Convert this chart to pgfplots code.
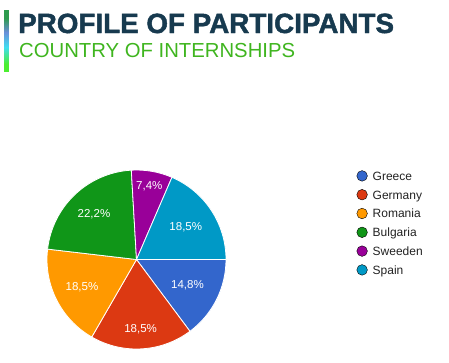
\documentclass[border=0pt]{standalone}
\usepackage{pgfplots}
\pgfplotsset{compat=1.18}
\usepackage{pgfplotstable}
\usepackage{fontspec}
\setmainfont{Liberation Sans}
\newfontface\titlefont{Liberation Sans Bold}[FakeBold=1.6]

\definecolor{cGreece}{HTML}{3366CC}
\definecolor{cGermany}{HTML}{DC3912}
\definecolor{cRomania}{HTML}{FF9900}
\definecolor{cBulgaria}{HTML}{109618}
\definecolor{cSweeden}{HTML}{990099}
\definecolor{cSpain}{HTML}{0099C6}
\definecolor{titlecol}{HTML}{173A4F}
\definecolor{subcol}{HTML}{3FB51F}
\definecolor{legtext}{HTML}{222222}
\definecolor{barA}{HTML}{4CEE30}
\definecolor{barB}{HTML}{40DDF0}
\definecolor{barC}{HTML}{6A8FD8}
\definecolor{barD}{HTML}{2E9B4E}

\newcommand\pielabelfont{\fontsize{11.5bp}{13bp}\selectfont}

% count of participants per country; lr = label distance from centre (px)
\pgfplotstableread{
country count lr
Greece 4 57
Germany 5 70
Romania 5 61
Bulgaria 6 62
Sweeden 2 74
Spain 5 59
}\piedata

\begin{document}
\begin{tikzpicture}
\path[use as bounding box] (0,0) rectangle (449bp,-363bp);
\def\pieR{89.5bp}
% totals and angles
\pgfplotstablegetrowsof{\piedata}
\pgfmathtruncatemacro\nlast{\pgfplotsretval-1}
\gdef\pietotal{0}
\foreach \i in {0,...,\nlast}{
  \pgfplotstablegetelem{\i}{count}\of\piedata
  \pgfmathsetmacro\pietmp{\pietotal+\pgfplotsretval}
  \xdef\pietotal{\pietmp}
}
\gdef\piecum{0}
\foreach \i in {0,...,\nlast}{
  \pgfplotstablegetelem{\i}{count}\of\piedata
  \let\pieval\pgfplotsretval
  \pgfmathsetmacro\pies{-360*\piecum/\pietotal}
  \pgfmathsetmacro\piee{-360*(\piecum+\pieval)/\pietotal}
  \pgfmathsetmacro\piem{(\pies+\piee)/2}
  \pgfmathsetmacro\piep{100*\pieval/\pietotal}
  \pgfmathsetmacro\piecumn{\piecum+\pieval}
  \xdef\piecum{\piecumn}
  \expandafter\xdef\csname pieS\i\endcsname{\pies}
  \expandafter\xdef\csname pieE\i\endcsname{\piee}
  \expandafter\xdef\csname pieM\i\endcsname{\piem}
  \expandafter\xdef\csname pieP\i\endcsname{\piep}
  \pgfplotstablegetelem{\i}{lr}\of\piedata
  \expandafter\xdef\csname pieL\i\endcsname{\pgfplotsretval}
  \pgfplotstablegetelem{\i}{country}\of\piedata
  \expandafter\xdef\csname pieN\i\endcsname{\pgfplotsretval}
}

% header: gradient bar (decorative), drawn in 1bp strips
\foreach \k in {0,...,61}{
  \ifnum\k<8 \def\barcol{barD}\else
  \ifnum\k<22 \pgfmathtruncatemacro\f{100*(\k-8)/14}\edef\barcol{barC!\f!barD}\else
  \ifnum\k<37 \pgfmathtruncatemacro\f{100*(\k-22)/15}\edef\barcol{barB!\f!barC}\else
  \ifnum\k<54 \pgfmathtruncatemacro\f{100*(\k-37)/17}\edef\barcol{barA!\f!barB}\else
  \def\barcol{barA}\fi\fi\fi\fi
  \fill[\barcol] (3.8bp,{-10bp-\k bp}) rectangle (8.5bp,{-11.2bp-\k bp});
}
\node[anchor=base west, inner sep=0pt, text=titlecol, font=\fontsize{27.8bp}{30bp}\titlefont] at (18bp,-33bp) {PROFILE OF PARTICIPANTS};
\node[anchor=base west, inner sep=0pt, text=subcol, font=\fontsize{20.3bp}{23bp}\selectfont] at (19bp,-57bp) {COUNTRY OF INTERNSHIPS};

\begin{axis}[
  hide axis,
  x=89.5bp, y=89.5bp,
  xmin=-1, xmax=1, ymin=-1, ymax=1,
  clip=false,
  at={(136.5bp,-259.5bp)}, anchor=center,
  legend image code/.code={\fill[#1] (0bp,0bp) circle[radius=5.3bp];},
  legend cell align=left,
  legend style={at={(axis cs:2.457,1)}, anchor=north west, draw=none, fill=none,
    inner sep=0pt, row sep=7.4bp, column sep=5.1bp,
    font=\fontsize{12bp}{14bp}\selectfont, text=legtext,
    nodes={inner sep=0pt, text height=10bp, text depth=1.4bp}},
]
\pgfplotsinvokeforeach{0,...,5}{
  \edef\temp{%
    \noexpand\fill[fill=c\csname pieN#1\endcsname, draw=white, line width=0.8bp]
      (axis cs:0,0) -- ++(\csname pieS#1\endcsname:\pieR)
      arc[start angle=\csname pieS#1\endcsname, end angle=\csname pieE#1\endcsname, radius=\pieR] -- cycle;
    \noexpand\path (axis cs:0,0) ++(\csname pieM#1\endcsname:\csname pieL#1\endcsname bp)
      node[text=white, font=\noexpand\pielabelfont, inner sep=0pt]
      {\noexpand\pgfmathprintnumber[fixed,precision=1,zerofill,use comma,assume math mode=true]{\csname pieP#1\endcsname}\noexpand\%};
    \noexpand\addlegendimage{fill=c\csname pieN#1\endcsname}
    \noexpand\addlegendentry{\csname pieN#1\endcsname}
  }\temp
}
\end{axis}
\end{tikzpicture}
\end{document}
